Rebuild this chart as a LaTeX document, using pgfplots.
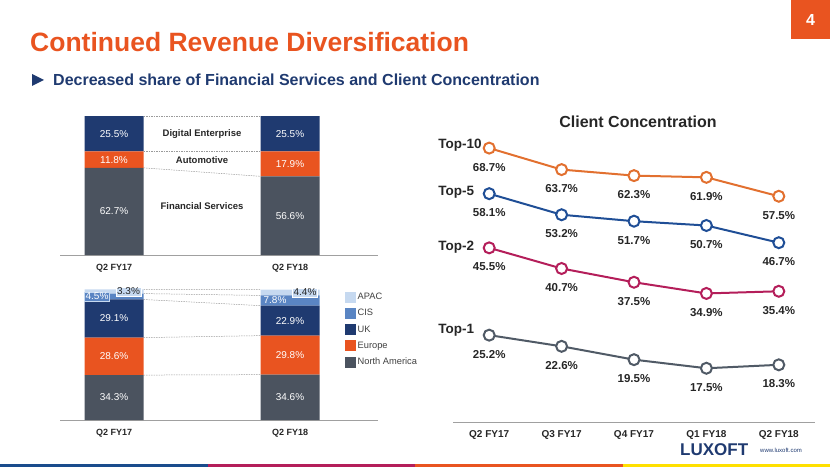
\documentclass[border=0pt]{standalone}
\usepackage{pgfplots}
\pgfplotsset{compat=1.18}
\usepackage{fontspec}
\setmainfont{Liberation Sans}

\definecolor{navy}{HTML}{1F3A70}
\definecolor{barorange}{HTML}{E95420}
\definecolor{fsgray}{HTML}{4B535F}
\definecolor{cisblue}{HTML}{5A85C3}
\definecolor{apacblue}{HTML}{C6D9F0}
\definecolor{axisgray}{HTML}{A0A0A0}
\definecolor{dashgray}{HTML}{9A9A9A}
\definecolor{txtblack}{HTML}{262626}
\definecolor{legtxt}{HTML}{404040}
\definecolor{ltorange}{HTML}{E2702F}
\definecolor{ltnavy}{HTML}{1F4E96}
\definecolor{crimson}{HTML}{B41E5A}
\definecolor{ltgray}{HTML}{505A66}
\definecolor{stripblue}{HTML}{1A4C8C}
\definecolor{stripyellow}{HTML}{FFE000}

\pgfplotsset{/pgf/number format/assume math mode=true}

\tikzset{
  lbl/.style={text=white, font=\fontsize{10}{10}\selectfont, inner sep=0pt},
  cat/.style={text=txtblack, font=\bfseries\fontsize{9.5}{10}\selectfont, inner sep=0pt},
  conn/.style={draw=dashgray, line width=0.5pt, dash pattern=on 1.5pt off 1pt},
  series/.style={anchor=west, inner sep=0pt, text=txtblack, font=\bfseries\fontsize{13.5}{14}\selectfont},
}

\pgfplotsset{
  barax/.style={
    scale only axis, anchor=south west, width=318pt,
    xmin=-0.307, xmax=1.5, ymin=0, ymax=100,
    ybar stacked, bar width=59pt,
    axis y line=none, axis x line*=bottom,
    x axis line style={draw=axisgray, line width=0.8pt, -},
    xtick={0,1}, xticklabels={Q2 FY17,Q2 FY18},
    major tick length=0pt,
    xticklabel style={text=txtblack, font=\bfseries\fontsize{9}{9}\selectfont, yshift=-6pt},
    clip=false,
  },
}

\begin{document}
\begin{tikzpicture}
\path[use as bounding box] (0pt,0pt) rectangle (830pt,467pt);

% slide frame
\fill[barorange] (791pt,428pt) rectangle (830pt,467pt);
\node[text=white, font=\bfseries\fontsize{16}{16}\selectfont] at (810.5pt,447pt) {4};
\node[anchor=west, inner sep=0pt, text=barorange, font=\bfseries\fontsize{26.5}{28}\selectfont] at (30pt,425pt) {Continued Revenue Diversification};
\fill[navy] (32pt,393pt) -- (44pt,387pt) -- (32pt,381pt) -- cycle;
\node[anchor=west, inner sep=0pt, text=navy, font=\bfseries\fontsize{16}{17}\selectfont] at (53pt,387pt) {Decreased share of Financial Services and Client Concentration};
\fill[stripblue] (0pt,0pt) rectangle (207.5pt,3.5pt);
\fill[crimson] (207.5pt,0pt) rectangle (415pt,3.5pt);
\fill[barorange] (415pt,0pt) rectangle (622.5pt,3.5pt);
\fill[stripyellow] (622.5pt,0pt) rectangle (830pt,3.5pt);
\node[anchor=west, inner sep=0pt, text=navy, font=\bfseries\fontsize{17}{17}\selectfont] at (680pt,17.5pt) {LUXOFT};
\node[anchor=west, inner sep=0pt, text=navy, font=\fontsize{6}{6}\selectfont] at (760pt,17pt) {www.luxoft.com};

% revenue by industry
\begin{axis}[barax, at={(60pt,212pt)}, height=139pt]
\addplot[fill=fsgray, draw=none] coordinates {(0,62.7) (1,56.6)};
\addplot[fill=barorange, draw=none] coordinates {(0,11.8) (1,17.9)};
\addplot[fill=navy, draw=none] coordinates {(0,25.5) (1,25.5)};
\draw[conn] ([xshift=29.5pt]axis cs:0,62.7) -- ([xshift=-29.5pt]axis cs:1,56.6);
\draw[conn] ([xshift=29.5pt]axis cs:0,74.5) -- ([xshift=-29.5pt]axis cs:1,74.5);
\draw[conn] ([xshift=29.5pt]axis cs:0,100) -- ([xshift=-29.5pt]axis cs:1,100);
\coordinate (a1) at (axis cs:0,31.35);
\coordinate (a2) at (axis cs:0,68.6);
\coordinate (a3) at (axis cs:0,87.25);
\coordinate (b1) at (axis cs:1,28.3);
\coordinate (b2) at (axis cs:1,65.55);
\coordinate (b3) at (axis cs:1,87.25);
\node[cat] at (axis cs:0.5,87.25) {Digital Enterprise};
\node[cat] at (axis cs:0.5,68.6) {Automotive};
\node[cat] at (axis cs:0.5,35.5) {Financial Services};
\end{axis}
\node[lbl] at (a1) {62.7\%};
\node[lbl] at (a2) {11.8\%};
\node[lbl] at (a3) {25.5\%};
\node[lbl] at (b1) {56.6\%};
\node[lbl] at (b2) {17.9\%};
\node[lbl] at (b3) {25.5\%};

% revenue by geography
\begin{axis}[barax, at={(60pt,47pt)}, height=131pt,
  reverse legend,
  legend style={at={(axis description cs:0.896,0.985)}, anchor=north west, draw=none, fill=none,
    font=\fontsize{9.3}{9.3}\selectfont, text=legtxt, row sep=4.3pt, inner sep=0pt,
    cells={anchor=west}},
  legend image code/.code={\fill[#1] (0pt,-4.5pt) rectangle (9pt,4.5pt);\path (0pt,-5.5pt) rectangle (10.5pt,5.5pt);}]
\addplot[fill=fsgray, draw=none] coordinates {(0,34.3) (1,34.6)};
\addplot[fill=barorange, draw=none] coordinates {(0,28.6) (1,29.8)};
\addplot[fill=navy, draw=none] coordinates {(0,29.1) (1,22.9)};
\addplot[fill=cisblue, draw=none] coordinates {(0,4.5) (1,7.8)};
\addplot[fill=apacblue, draw=none] coordinates {(0,3.3) (1,4.4)};
\legend{North America,Europe,UK,CIS,APAC}
\draw[conn] ([xshift=29.5pt]axis cs:0,34.3) -- ([xshift=-29.5pt]axis cs:1,34.6);
\draw[conn] ([xshift=29.5pt]axis cs:0,62.9) -- ([xshift=-29.5pt]axis cs:1,64.4);
\draw[conn] ([xshift=29.5pt]axis cs:0,92.0) -- ([xshift=-29.5pt]axis cs:1,87.3);
\draw[conn] ([xshift=29.5pt]axis cs:0,96.5) -- ([xshift=-29.5pt]axis cs:1,95.1);
\draw[conn] ([xshift=29.5pt]axis cs:0,99.8) -- ([xshift=-29.5pt]axis cs:1,99.5);
\coordinate (c1) at (axis cs:0,17.15);
\coordinate (c2) at (axis cs:0,48.6);
\coordinate (c3) at (axis cs:0,77.45);
\coordinate (c4) at (axis cs:0,94.25);
\coordinate (c5) at (axis cs:0,98.15);
\coordinate (d1) at (axis cs:1,17.3);
\coordinate (d2) at (axis cs:1,49.5);
\coordinate (d3) at (axis cs:1,75.85);
\coordinate (d4) at (axis cs:1,91.2);
\coordinate (d5) at (axis cs:1,97.3);
\end{axis}
\node[lbl] at (c1) {34.3\%};
\node[lbl] at (c2) {28.6\%};
\node[lbl] at (c3) {29.1\%};
\node[lbl] at (d1) {34.6\%};
\node[lbl] at (d2) {29.8\%};
\node[lbl] at (d3) {22.9\%};
\node[lbl, fill=cisblue, draw=apacblue, inner sep=1pt] at ([xshift=-17pt]c4) {4.5\%};
\node[lbl, text=txtblack, fill=apacblue, draw=white, inner sep=1pt] at ([xshift=14.5pt]c5) {3.3\%};
\node[lbl] at ([xshift=-15pt]d4) {7.8\%};
\node[lbl, text=txtblack, fill=apacblue, draw=white, inner sep=1pt] at ([xshift=15pt]d5) {4.4\%};

% client concentration
\node[text=txtblack, font=\bfseries\fontsize{16}{16}\selectfont] at (638pt,345pt) {Client Concentration};
\begin{axis}[at={(453pt,45pt)}, anchor=south west, scale only axis,
  width=362pt, height=301pt,
  xmin=-0.5, xmax=4.5, ymin=5, ymax=75,
  axis y line=none, axis x line*=bottom,
  x axis line style={draw=axisgray, line width=0.8pt, -},
  xtick={0,1,2,3,4},
  xticklabels={Q2 FY17,Q3 FY17,Q4 FY17,Q1 FY18,Q2 FY18},
  major tick length=0pt,
  xticklabel style={text=txtblack, font=\bfseries\fontsize{10}{10}\selectfont, yshift=-5pt},
  clip=false,
  point meta=y,
  nodes near coords={\pgfmathprintnumber[fixed,fixed zerofill,precision=1]{\pgfplotspointmeta}\%},
  every node near coord/.append style={anchor=center, yshift=-19pt, text=txtblack,
    font=\bfseries\fontsize{11.5}{12}\selectfont},
  every axis plot/.append style={line width=2pt, mark=*, mark size=5.5pt},
]
\addplot[ltorange, mark options={fill=white, draw=ltorange}] coordinates {(0,68.7) (1,63.7) (2,62.3) (3,61.9) (4,57.5)};
\addplot[ltnavy, mark options={fill=white, draw=ltnavy}] coordinates {(0,58.1) (1,53.2) (2,51.7) (3,50.7) (4,46.7)};
\addplot[crimson, mark options={fill=white, draw=crimson}] coordinates {(0,45.5) (1,40.7) (2,37.5) (3,34.9) (4,35.4)};
\addplot[ltgray, mark options={fill=white, draw=ltgray}] coordinates {(0,25.2) (1,22.6) (2,19.5) (3,17.5) (4,18.3)};
\node[series] at ([xshift=-51pt,yshift=3pt]axis cs:0,68.7) {Top-10};
\node[series] at ([xshift=-51pt,yshift=1pt]axis cs:0,58.1) {Top-5};
\node[series] at ([xshift=-51pt,yshift=1pt]axis cs:0,45.5) {Top-2};
\node[series] at ([xshift=-51pt,yshift=5pt]axis cs:0,25.2) {Top-1};
\end{axis}
\end{tikzpicture}
\end{document}
